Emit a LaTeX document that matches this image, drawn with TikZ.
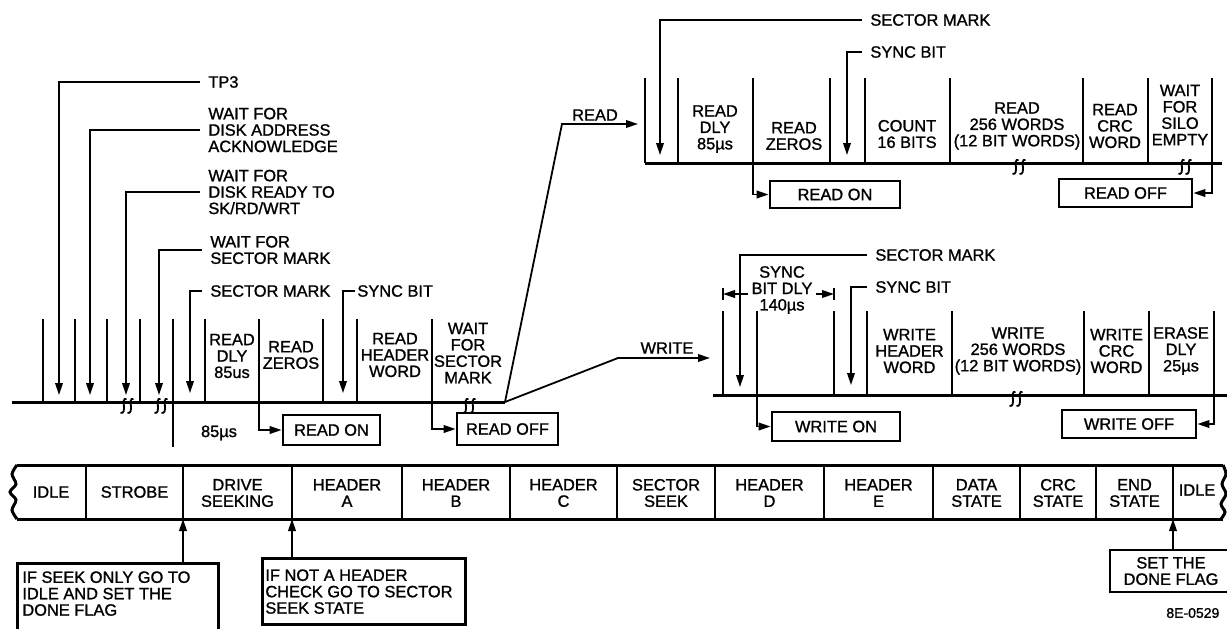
\documentclass[tikz,border=0pt]{standalone}
\usepackage{fontspec}
\setmainfont[FakeBold=1.2]{Liberation Sans}
\usetikzlibrary{arrows.meta}

\begin{document}
\begin{tikzpicture}[
  x=0.5pt, y=-0.5pt,
  font=\fontsize{8.2}{8.2}\selectfont,
  tickln/.style={line width=0.9pt},
  baseln/.style={line width=1.5pt},
  arr/.style={tickln, -{Triangle[length=6pt, width=3.8pt]}},
  lbl/.style={inner sep=0pt, align=center},
  note/.style={inner xsep=4pt, inner ysep=0pt, align=left, anchor=west},
  onoff/.style={draw, line width=1.4pt, inner sep=0pt, align=center},
  callout/.style={draw, line width=1.4pt, inner sep=0pt, anchor=north west},
  brk/.pic={
    \draw[tickln] (-0.5,-4) .. controls (-7,-6) and (1,11) .. (-6.5,10);
    \draw[tickln] (6.5,-4) .. controls (0,-6) and (8,11) .. (0.5,10);
  }
]
\useasboundingbox (0,0) rectangle (1227,628);

% Left timeline: labels
\node[note] (tp3)   at (200,82)  {TP3};
\node[note] (dack)  at (200,130) {WAIT FOR\\DISK ADDRESS\\ACKNOWLEDGE};
\node[note] (drdy)  at (200,192) {WAIT FOR\\DISK READY TO\\SK/RD/WRT};
\node[note] (lwsm)  at (202,250) {WAIT FOR\\SECTOR MARK};
\node[note] (lsm)   at (202,291) {SECTOR MARK};
\node[note, inner xsep=1pt] (lsync) at (355,291) {SYNC BIT};

% Left timeline: ticks and base line
\foreach \x [count=\i] in {43,75,107,140,173,205,259,323,357,432}
  \draw[tickln] (\x,319) -- (\x,402) coordinate (l\i);
\draw[baseln] (12,402) -- (505,402) coordinate (split);
\draw[tickln] (l5) -- ++(0,45);
\pic at (127,403) {brk};
\pic at (161,403) {brk};
\pic at (469,403) {brk};

% Left timeline: arrow tips
\coordinate (atp3)  at (59,395);
\coordinate (aack)  at (90,395);
\coordinate (ardy)  at (126,395);
\coordinate (awsm)  at (159,395);
\coordinate (alsm)  at (190,393);
\coordinate (alsy)  at (343,393);

% Left timeline: segments
\node[lbl] (ldly)  at (232,356) {READ\\DLY\\85us};
\node[lbl] (lzero) at (291,355) {READ\\ZEROS};
\node[lbl] (lhdr)  at (395,355) {READ\\HEADER\\WORD};
\node[lbl] (lwait) at (468,353) {WAIT\\FOR\\SECTOR\\MARK};
\node[lbl] (l85)   at (219,433) {85µs};

\node[onoff, minimum width=48.5pt, minimum height=15pt] (lrdon)  at (331.5,430) {READ ON};
\node[onoff, minimum width=50.5pt, minimum height=16pt] (lrdoff) at (507.5,429) {READ OFF};

% READ / WRITE branches
\coordinate (rdk)  at (562,124);
\coordinate (rdin) at (638,124);
\coordinate (wrk)  at (618,358);
\coordinate (wrin) at (710,358);
\node[lbl] (rdlbl) at (595,115) {READ};
\node[lbl] (wrlbl) at (667,348) {WRITE};

% Read timeline (top right)
\node[note] (rsm)   at (862,20) {SECTOR MARK};
\node[note] (rsync) at (862,52) {SYNC BIT};
\coordinate (arsm) at (660,155);
\coordinate (arsy) at (847,155);

\foreach \x [count=\i] in {645,678,753,830,865,950,1083,1148,1212}
  \draw[tickln] (\x,78) -- (\x,163) coordinate (r\i);
\draw[baseln] (r1) -- (1222,163);
\pic at (1019,164) {brk};
\pic at (1185,164) {brk};

\node[lbl] (rdly)  at (715,129)  {READ\\DLY\\85µs};
\node[lbl] (rzero) at (794,136)  {READ\\ZEROS};
\node[lbl] (rcnt)  at (907,134)  {COUNT\\16 BITS};
\node[lbl] (rwrd)  at (1017,126) {READ\\256 WORDS\\(12 BIT WORDS)};
\node[lbl] (rcrc)  at (1115,126) {READ\\CRC\\WORD};
\node[lbl] (rsilo) at (1180,115) {WAIT\\FOR\\SILO\\EMPTY};

\node[onoff, minimum width=65pt, minimum height=13.5pt] (rdon)  at (835,194.5)  {READ ON};
\node[onoff, minimum width=66.5pt, minimum height=14pt] (rdoff) at (1125.5,193) {READ OFF};

% Write timeline (bottom right)
\node[note] (wsm)   at (867,255) {SECTOR MARK};
\node[note] (wsync) at (867,287) {SYNC BIT};
\coordinate (awsmk) at (740,387);
\coordinate (awsy)  at (851,385);

\foreach \x [count=\i] in {723,757,834,867,952,1084,1149,1214}
  \draw[tickln] (\x,311) -- (\x,395) coordinate (w\i);
\draw[baseln] (713,395) -- (1227,395);
\pic at (1016,396) {brk};

% sync bit delay dimension
\node[lbl] (sdly) at (782,290) {SYNC\\BIT DLY\\140µs};
\draw[tickln] (723,288) -- (723,300);
\draw[tickln] (834,288) -- (834,300);
\draw[arr] (748,294) -- (723,294);
\draw[arr] (816,294) -- (834,294);

\node[lbl] (whdr)  at (909.5,351) {WRITE\\HEADER\\WORD};
\node[lbl] (wwrd)  at (1018,351)  {WRITE\\256 WORDS\\(12 BIT WORDS)};
\node[lbl] (wcrc)  at (1116.5,351) {WRITE\\CRC\\WORD};
\node[lbl] (wers)  at (1181,351)  {ERASE\\DLY\\25µs};

\node[onoff, minimum width=64pt, minimum height=14.5pt] (wron)  at (836,426.5) {WRITE ON};
\node[onoff, minimum width=67pt, minimum height=14pt]   (wroff) at (1129,424)  {WRITE OFF};

% State bar
\draw[baseln] (17,465) -- (1223,465);
\draw[baseln] (17,519) -- (1223,519);
\draw[baseln] plot[smooth] coordinates {(17,465) (12,474) (16,484) (10,492) (16,500) (12,510) (17,519)};
\draw[baseln] plot[smooth] coordinates {(1223,465) (1226,474) (1222,484) (1226,494) (1221,504) (1225,512) (1221,519)};
\foreach \x [count=\i] in {86,183,292,402,510,617,715,824,933,1020,1096,1173}
  \draw[tickln] (\x,465) -- (\x,519) coordinate (b\i);

\node[lbl] (idlea)   at (51,492)    {IDLE};
\node[lbl] (strobe)  at (134.5,492) {STROBE};
\node[lbl] (seeking) at (237.5,493) {DRIVE\\SEEKING};
\node[lbl] (hdra)    at (347,493)   {HEADER\\A};
\node[lbl] (hdrb)    at (456,493)   {HEADER\\B};
\node[lbl] (hdrc)    at (563.5,493) {HEADER\\C};
\node[lbl] (secseek) at (666,493)   {SECTOR\\SEEK};
\node[lbl] (hdrd)    at (769.5,493) {HEADER\\D};
\node[lbl] (hdre)    at (878.5,493) {HEADER\\E};
\node[lbl] (datast)  at (976.5,493) {DATA\\STATE};
\node[lbl] (crcst)   at (1058,493)  {CRC\\STATE};
\node[lbl] (endst)   at (1134.5,493) {END\\STATE};
\node[lbl] (idleb)   at (1197,490)  {IDLE};

% Callouts
\node[callout, minimum width=100.5pt, minimum height=40pt] (seekbox) at (16,562) {};
\node[note, anchor=north west, inner xsep=3pt] (seektxt) at (16,571)
  {IF SEEK ONLY GO TO\\IDLE AND SET THE\\DONE FLAG};
\node[callout, minimum width=101.5pt, minimum height=33pt] (hdrbox) at (261,557) {};
\node[note, anchor=north west, inner xsep=2pt] (hdrtxt) at (261,569)
  {IF NOT A HEADER\\CHECK GO TO SECTOR\\SEEK STATE};
\node[onoff, minimum width=61pt, minimum height=21pt] (donebox) at (1171,571) {SET THE\\DONE FLAG};
\node[note, anchor=west, inner xsep=0pt, font=\fontsize{7}{7}\selectfont] (figno) at (1166,613) {8E-0529};

% --- Arrows ---
% left timeline pointers
\draw[arr] (tp3.west)   -| (atp3);
\draw[arr] (dack.west)  -| (aack);
\draw[arr] (drdy.west)  -| (ardy);
\draw[arr] (lwsm.west)  -| (awsm);
\draw[arr] (lsm.west)   -| (alsm);
\draw[arr] (lsync.west) -| (alsy);
\draw[arr] (l7)  |- (lrdon);
\draw[arr] (l10) |- (lrdoff);

% branches
\draw[arr] (split) -- (rdk) -- (rdin);
\draw[arr] (split) -- (wrk) -- (wrin);

% read timeline pointers
\draw[arr] (rsm.west)   -| (arsm);
\draw[arr] (rsync.west) -| (arsy);
\draw[arr] (r3) |- (rdon);
\draw[arr] (r9) |- (rdoff);

% write timeline pointers
\draw[arr] (wsm.west)   -| (awsmk);
\draw[arr] (wsync.west) -| (awsy);
\draw[arr] (w2) |- (wron);
\draw[arr] (w8) |- (wroff);

% callouts into state bar
\draw[arr] (seekbox.north -| b2)  -- (b2);
\draw[arr] (hdrbox.north -| b3)   -- (b3);
\draw[arr] (donebox.north -| b12) -- (b12);

\end{tikzpicture}
\end{document}
